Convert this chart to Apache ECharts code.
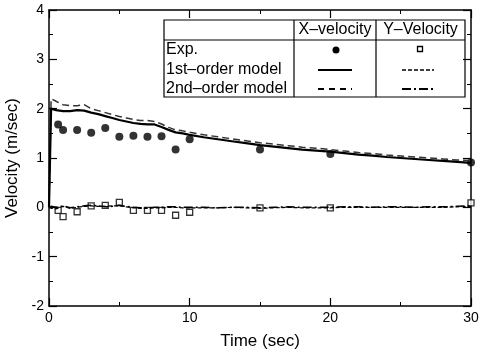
<!DOCTYPE html>
<html><head><meta charset="utf-8">
<script src="https://cdn.jsdelivr.net/npm/echarts@6/dist/echarts.min.js"></script>
<style>html,body{margin:0;padding:0;background:#fff}#c{width:479px;height:354px}</style>
</head><body><div id="c"></div>
<script>
// Experimental data
var expT = [0.65, 1.0, 2.0, 3.0, 4.0, 5.0, 6.0, 7.0, 8.0, 9.0, 10, 15, 20, 30];
var expX = [1.68, 1.57, 1.57, 1.51, 1.61, 1.43, 1.45, 1.43, 1.44, 1.17, 1.38, 1.17, 1.08, 0.91];
var expY = [-0.06, -0.19, -0.09, 0.03, 0.04, 0.1, -0.06, -0.06, -0.06, -0.16, -0.1, -0.01, -0.01, 0.09];
// Model curves
var modelT = [0,0.15,0.5,1,1.5,2,2.5,3,3.5,4,4.5,5,5.5,6,6.5,7,7.5,8,8.5,9,9.5,10,11,12,13,14,15,16,17,18,19,20,21,22,23,24,25,26,27,28,29,30];
var x1st = [0,2.0,1.97,1.95,1.95,1.97,1.96,1.92,1.89,1.85,1.81,1.77,1.74,1.71,1.69,1.68,1.68,1.63,1.57,1.52,1.50,1.47,1.42,1.38,1.34,1.30,1.26,1.23,1.20,1.17,1.15,1.13,1.10,1.07,1.05,1.02,1.00,0.98,0.96,0.94,0.92,0.90];
var x2nd = [0,2.2,2.15,2.08,2.06,2.06,2.08,2.0,1.96,1.92,1.88,1.84,1.81,1.78,1.76,1.76,1.74,1.69,1.62,1.57,1.55,1.52,1.47,1.43,1.39,1.35,1.31,1.28,1.25,1.22,1.20,1.17,1.14,1.11,1.09,1.06,1.04,1.02,1.00,0.98,0.96,0.95];
var y1st = [0,-0.02,-0.03,0.02,-0.02,0,0.02,0.03,0.02,0.02,0.03,0.03,0.01,-0.01,-0.02,-0.02,-0.01,-0.01,0,0,-0.01,-0.01,-0.01,-0.01,0,-0.01,-0.02,-0.01,0,-0.01,-0.01,-0.01,0,0,0,0,0,0,0,0,0.01,0.02];
var y2nd = [0,0.02,0.0,0.03,-0.01,0.01,0.03,0.04,0.03,0.01,0.02,0.04,0.02,0.0,-0.01,-0.01,0,0,0.01,0.01,0,0,0,-0.01,0,0,-0.01,0,0.01,0,0,0,0.01,0.01,0,0.01,0.01,0,0.01,0.01,0.02,0.03];
// Text
var xTitle = 'Time (sec)';
var yTitle = 'Velocity (m/sec)';
var colHeads = ['X–velocity', 'Y–Velocity'];
var rowHeads = ['Exp.', '1st–order model', '2nd–order model'];

function pairs(t, v) { return t.map(function (x, i) { return [x, v[i]]; }); }

var FONT = 'Liberation Sans, Arial, Helvetica, sans-serif';
var chart = echarts.init(document.getElementById('c'));

function axisCommon(extra) {
  return Object.assign({
    type: 'value',
    axisLine: { show: true, onZero: false, lineStyle: { color: '#000', width: 1.5 } },
    axisTick: { show: true, inside: true, length: 8, lineStyle: { color: '#000', width: 1.2 } },
    minorTick: { show: true, splitNumber: 2, length: 4, lineStyle: { color: '#000', width: 1 } },
    splitLine: { show: false },
    minorSplitLine: { show: false }
  }, extra);
}

var legendEls = [
  { type: 'rect', shape: { x: 164, y: 20, width: 301, height: 77 }, style: { fill: '#fff', stroke: '#000', lineWidth: 1.2 } },
  { type: 'line', shape: { x1: 164, y1: 40, x2: 465, y2: 40 }, style: { stroke: '#000', lineWidth: 1.2 } },
  { type: 'line', shape: { x1: 294, y1: 20, x2: 294, y2: 97 }, style: { stroke: '#000', lineWidth: 1.2 } },
  { type: 'line', shape: { x1: 376, y1: 20, x2: 376, y2: 97 }, style: { stroke: '#000', lineWidth: 1.2 } },
  { type: 'text', x: 335, y: 30, style: { text: colHeads[0], font: '16px ' + FONT, fill: '#000', align: 'center', verticalAlign: 'middle' } },
  { type: 'text', x: 420.5, y: 30, style: { text: colHeads[1], font: '16px ' + FONT, fill: '#000', align: 'center', verticalAlign: 'middle' } },
  { type: 'text', x: 166, y: 50, style: { text: rowHeads[0], font: '16px ' + FONT, fill: '#000', align: 'left', verticalAlign: 'middle' } },
  { type: 'text', x: 166, y: 70, style: { text: rowHeads[1], font: '16px ' + FONT, fill: '#000', align: 'left', verticalAlign: 'middle' } },
  { type: 'text', x: 166, y: 89, style: { text: rowHeads[2], font: '16px ' + FONT, fill: '#000', align: 'left', verticalAlign: 'middle' } },
  { type: 'circle', shape: { cx: 336, cy: 50, r: 3.5 }, style: { fill: '#000' } },
  { type: 'rect', shape: { x: 417.5, y: 46.5, width: 5, height: 5 }, style: { fill: '#fff', stroke: '#000', lineWidth: 1.3 } },
  { type: 'line', shape: { x1: 318, y1: 70, x2: 352, y2: 70 }, style: { stroke: '#000', lineWidth: 2 } },
  { type: 'line', shape: { x1: 402, y1: 70, x2: 434, y2: 70 }, style: { stroke: '#000', lineWidth: 1.5, lineDash: [4, 2] } },
  { type: 'line', shape: { x1: 318, y1: 89, x2: 352, y2: 89 }, style: { stroke: '#000', lineWidth: 2, lineDash: [6, 5] } },
  { type: 'line', shape: { x1: 402, y1: 89, x2: 434, y2: 89 }, style: { stroke: '#000', lineWidth: 2, lineDash: [9, 3, 2, 3] } }
];

chart.setOption({
  animation: false,
  backgroundColor: '#fff',
  textStyle: { fontFamily: FONT },
  grid: { left: 49, right: 8, top: 10, bottom: 48, containLabel: false, outerBoundsMode: 'none' },
  xAxis: [
    axisCommon({ position: 'bottom', min: 0, max: 30, interval: 10,
      name: xTitle, nameLocation: 'middle', nameGap: 27,
      nameTextStyle: { fontSize: 17, color: '#000', fontFamily: FONT },
      axisLabel: { fontSize: 14, color: '#000', fontFamily: FONT, margin: 5 } }),
    axisCommon({ position: 'top', min: 0, max: 30, interval: 10, axisLabel: { show: false } })
  ],
  yAxis: [
    axisCommon({ position: 'left', min: -2, max: 4, interval: 1,
      name: yTitle, nameLocation: 'middle', nameGap: 24,
      nameTextStyle: { fontSize: 17, color: '#000', fontFamily: FONT },
      axisLabel: { fontSize: 14, color: '#000', fontFamily: FONT, margin: 5 } }),
    axisCommon({ position: 'right', min: -2, max: 4, interval: 1, axisLabel: { show: false } })
  ],
  series: [
    { name: 'Y 2nd', type: 'line', data: pairs(modelT, y2nd), showSymbol: false, symbol: 'none',
      lineStyle: { color: '#000', width: 1.5, type: [9, 3, 2, 3] } },
    { name: 'Y 1st', type: 'line', data: pairs(modelT, y1st), showSymbol: false, symbol: 'none',
      lineStyle: { color: '#000', width: 1.2, type: [4, 2] } },
    { name: 'X 2nd', type: 'line', data: pairs(modelT, x2nd), showSymbol: false, symbol: 'none',
      lineStyle: { color: '#333', width: 1.5, type: [7, 4] } },
    { name: 'X 1st', type: 'line', data: pairs(modelT, x1st), showSymbol: false, symbol: 'none',
      lineStyle: { color: '#000', width: 2.2 } },
    { name: 'Exp X', type: 'scatter', data: pairs(expT, expX), symbol: 'circle', symbolSize: 8,
      itemStyle: { color: '#000' } },
    { name: 'Exp Y', type: 'scatter', data: pairs(expT, expY), symbol: 'rect', symbolSize: 6,
      itemStyle: { color: '#fff', borderColor: '#000', borderWidth: 1.3 } }
  ],
  graphic: legendEls
});
</script>
</body></html>
